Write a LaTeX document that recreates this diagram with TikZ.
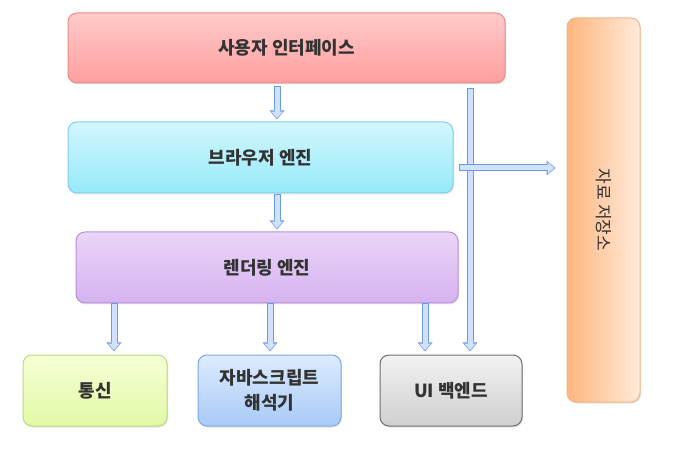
\documentclass[tikz,border=0pt]{standalone}
\usepackage{fontspec}
\usepackage{graphicx}
\setmainfont{Noto Sans CJK KR}
\usepackage{tikz}
\usetikzlibrary{arrows.meta,calc,shadows}

\definecolor{uitop}{HTML}{FFCACA}
\definecolor{uibot}{HTML}{FF9E9E}
\definecolor{uiline}{HTML}{E88A8A}
\definecolor{betop}{HTML}{D2F6FD}
\definecolor{bebot}{HTML}{96E9F9}
\definecolor{beline}{HTML}{7FD0E8}
\definecolor{retop}{HTML}{EAD6F8}
\definecolor{rebot}{HTML}{D6B2F0}
\definecolor{reline}{HTML}{B890D8}
\definecolor{nettop}{HTML}{F6FFD6}
\definecolor{netbot}{HTML}{E2F8A6}
\definecolor{netline}{HTML}{B8DC7A}
\definecolor{jstop}{HTML}{DDEBFF}
\definecolor{jsbot}{HTML}{A8CAF6}
\definecolor{jsline}{HTML}{7EA8E2}
\definecolor{bktop}{HTML}{F2F2F2}
\definecolor{bkbot}{HTML}{CFCFCF}
\definecolor{bkline}{HTML}{6E6E6E}
\definecolor{dsleft}{HTML}{FFB67E}
\definecolor{dsright}{HTML}{FFEADA}
\definecolor{dsline}{HTML}{F2B483}
\definecolor{arrowfill}{HTML}{D0E0FF}
\definecolor{arrowline}{HTML}{6A9AE2}
\definecolor{labeltext}{HTML}{333333}

\tikzset{
    module/.style={draw, line width=1pt, rounded corners=9pt, align=center,
        text=labeltext, font=\fontsize{18}{25}\selectfont\bfseries,
        drop shadow={opacity=0.2, shadow xshift=1pt, shadow yshift=-1.5pt}},
    blockarrow/.style={line width=5pt, draw=arrowfill,
        shorten <=1pt, shorten >=1.2pt,
        -{Triangle[length=6.6pt,width=11.5pt,line width=0pt]},
        preaction={draw=arrowline, line width=7pt, shorten <=0pt, shorten >=0pt,
            -{Triangle[length=9pt,width=15pt,line width=0pt]}}}
}

\begin{document}
\begin{tikzpicture}[x=1pt, y=-1pt]
    \useasboundingbox (0,0) rectangle (686,449);

    % modules
    \node[module, draw=uiline, top color=uitop, bottom color=uibot,
        minimum width=437pt, minimum height=70pt] (ui) at (286.5,48) {사용자 인터페이스};
    \node[module, draw=beline, top color=betop, bottom color=bebot,
        minimum width=385pt, minimum height=71pt] (be) at (260.5,157.5) {브라우저 엔진};
    \node[module, draw=reline, top color=retop, bottom color=rebot,
        minimum width=382pt, minimum height=71pt] (re) at (267,267.5) {렌더링 엔진};
    \node[module, draw=netline, top color=nettop, bottom color=netbot,
        minimum width=144pt, minimum height=71pt] (net) at (95,390.5) {통신};
    \node[module, draw=jsline, top color=jstop, bottom color=jsbot,
        minimum width=143pt, minimum height=71pt] (js) at (269.5,390.5) {자바스크립트\\해석기};
    \node[module, draw=bkline, top color=bktop, bottom color=bkbot,
        minimum width=142pt, minimum height=71pt] (uib) at (451,390.5) {UI 백엔드};
    \node[module, draw=dsline, left color=dsleft, right color=dsright,
        font=\fontsize{17}{20}\selectfont,
        minimum width=73pt, minimum height=384pt] (ds) at (603.5,210) {\rotatebox{-90}{자료 저장소}};

    % arrows
    \draw[blockarrow] ($(ui.south)+(-9.5,3)$) -- ($(be.north)+(16.5,-2)$);
    \draw[blockarrow] ($(be.south)+(16.5,1)$) -- ($(re.north)+(10,-2)$);
    \draw[blockarrow] ($(re.south)+(-153,0)$) -- ($(net.north)+(19,-3)$);
    \draw[blockarrow] ($(re.south)+(3,0)$) -- ($(js.north)+(0.5,-3)$);
    \draw[blockarrow] ($(re.south)+(158,0)$) -- ($(uib.north)+(-26,-3)$);
    \draw[blockarrow] ($(ui.south)+(183.5,5)$) -- ($(uib.north)+(19,-3)$);
    \draw[blockarrow] ($(be.east)+(5,10.5)$) -- ($(ds.west)+(-11,-42)$);
\end{tikzpicture}
\end{document}
